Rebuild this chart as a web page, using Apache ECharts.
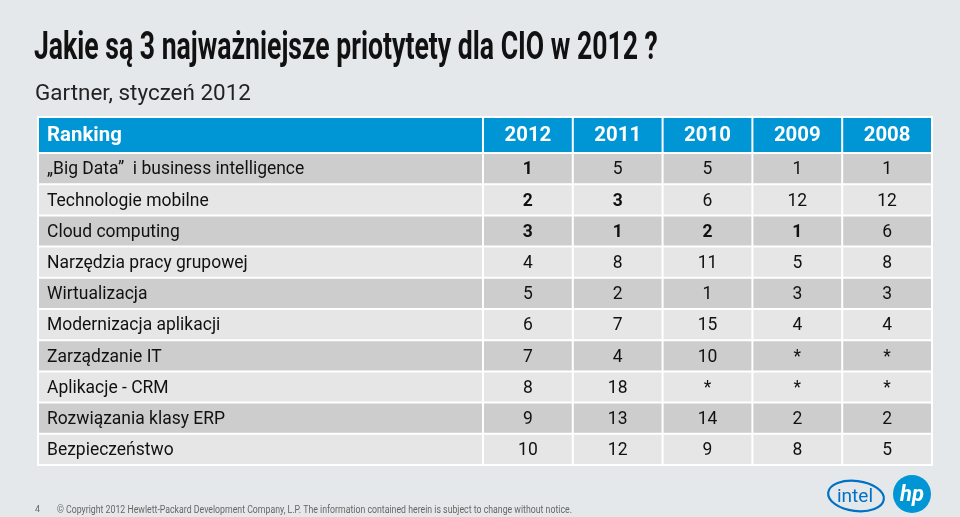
<!DOCTYPE html>
<html><head><meta charset="utf-8">
<script src="https://cdn.jsdelivr.net/npm/echarts@6/dist/echarts.min.js"></script>
<style>html,body{margin:0;padding:0;background:#e5e8ea;}#c{width:960px;height:517px;}</style>
</head><body><div id="c"></div>
<script>
// ---- data ----
var titleText = 'Jakie są 3 najważniejsze priotytety dla CIO w 2012 ?';
var subtitleText = 'Gartner, styczeń 2012';
var headerLabel = 'Ranking';
var years = ['2012', '2011', '2010', '2009', '2008'];
var priorities = [
  '„Big Data”  i business intelligence',
  'Technologie mobilne',
  'Cloud computing',
  'Narzędzia pracy grupowej',
  'Wirtualizacja',
  'Modernizacja aplikacji',
  'Zarządzanie IT',
  'Aplikacje - CRM',
  'Rozwiązania klasy ERP',
  'Bezpieczeństwo'
];
var rank2012 = ['1', '2', '3', '4', '5', '6', '7', '8', '9', '10'];
var rank2011 = ['5', '3', '1', '8', '2', '7', '4', '18', '13', '12'];
var rank2010 = ['5', '6', '2', '11', '1', '15', '10', '*', '14', '9'];
var rank2009 = ['1', '12', '1', '5', '3', '4', '*', '*', '2', '8'];
var rank2008 = ['1', '12', '6', '8', '3', '4', '*', '*', '2', '5'];
// [rowIndex, yearIndex] of cells printed in bold
var boldCells = [[0, 0], [1, 0], [1, 1], [2, 0], [2, 1], [2, 2], [2, 3]];
var footerPage = '4';
var footerText = '© Copyright 2012 Hewlett-Packard Development Company, L.P. The information contained herein is subject to change without notice.';

// ---- build ----
var rankCols = [rank2012, rank2011, rank2010, rank2009, rank2008];
var LABEL_SPAN = 4.955;   // width of label column in year-column units
var HEADER_SPAN = 1.154;  // header row height in row units
function isBold(r, c) {
  return boldCells.some(function (b) { return b[0] === r && b[1] === c; });
}
var cells = [];
cells.push([-LABEL_SPAN, years.length, -HEADER_SPAN, priorities.length, '', 'bg', 0]);
cells.push([-LABEL_SPAN, 0, -HEADER_SPAN, 0, headerLabel, 'headL', 1]);
years.forEach(function (y, c) { cells.push([c, c + 1, -HEADER_SPAN, 0, y, 'headC', 1]); });
priorities.forEach(function (p, r) {
  var kind = r % 2 === 0 ? 'dark' : 'light';
  cells.push([-LABEL_SPAN, 0, r, r + 1, p, kind + 'L', 0]);
  rankCols.forEach(function (col, c) {
    cells.push([c, c + 1, r, r + 1, col[r], kind + 'C', isBold(r, c) ? 1 : 0]);
  });
});

var FONT = 'Roboto';
function renderItem(params, api) {
  var x0 = api.value(0), x1 = api.value(1), y0 = api.value(2), y1 = api.value(3);
  var kind = api.value(5);
  var txt = api.value(4);
  var bold = api.value(6) === 1;
  var p0 = api.coord([x0, y0]), p1 = api.coord([x1, y1]);
  if (kind === 'bg') {
    return { type: 'rect', shape: { x: p0[0] - 1, y: p0[1] - 1, width: p1[0] - p0[0] + 2, height: p1[1] - p0[1] + 2 }, style: { fill: '#ffffff' } };
  }
  var isHead = kind.indexOf('head') === 0;
  var fill = isHead ? '#0096d6' : (kind.indexOf('dark') === 0 ? '#cdcdcd' : '#e6e6e6');
  var left = kind.charAt(kind.length - 1) === 'L';
  var w = p1[0] - p0[0], h = p1[1] - p0[1];
  return {
    type: 'group',
    children: [
      { type: 'rect', shape: { x: p0[0] + 1, y: p0[1] + 1, width: w - 2, height: h - 2 }, style: { fill: fill } },
      {
        type: 'text',
        x: left ? p0[0] + 9 : p0[0] + w / 2,
        y: p0[1] + h / 2 + 1,
        scaleX: isHead ? 1.02 : 0.92,
        style: {
          text: txt,
          fill: isHead ? '#ffffff' : '#111111',
          font: (bold ? 'bold ' : '') + (isHead ? '20px ' : '19px ') + FONT,
          align: left ? 'left' : 'center',
          verticalAlign: 'middle'
        }
      }
    ]
  };
}

var chart = echarts.init(document.getElementById('c'), null, { renderer: 'canvas' });
chart.setOption({
  backgroundColor: '#e5e8ea',
  animation: false,
  grid: { left: 38, right: 28, top: 117, bottom: 52 },
  xAxis: { type: 'value', min: -LABEL_SPAN, max: years.length, show: false },
  yAxis: { type: 'value', min: -HEADER_SPAN, max: priorities.length, inverse: true, show: false },
  series: [{
    type: 'custom',
    renderItem: renderItem,
    data: cells,
    encode: { x: [0, 1], y: [2, 3] },
    silent: true
  }],
  graphic: [
    { type: 'text', x: 34, y: 30, scaleX: 0.70, style: { text: titleText, font: 'bold 38px ' + FONT, fill: '#111111' } },
    { type: 'text', x: 35, y: 83, scaleX: 1.02, style: { text: subtitleText, font: '22px ' + FONT, fill: '#222222' } },
    { type: 'text', x: 35, y: 505, style: { text: footerPage, font: '9px ' + FONT, fill: '#666666' } },
    { type: 'text', x: 57, y: 505, scaleX: 0.875, style: { text: footerText, font: '10px ' + FONT, fill: '#666666' } },
    // intel logo
    { type: 'ellipse', shape: { cx: 0, cy: 0, rx: 28, ry: 15 }, x: 856, y: 496, rotation: -0.12, style: { fill: 'none', stroke: '#0071c5', lineWidth: 2.2 } },
    { type: 'text', x: 855, y: 497, style: { text: 'intel', font: '19px ' + FONT, fill: '#0071c5', align: 'center', verticalAlign: 'middle' } },
    // hp logo
    { type: 'circle', shape: { cx: 912, cy: 494, r: 19 }, style: { fill: '#0096d6' } },
    { type: 'text', x: 912, y: 495, style: { text: 'hp', font: 'italic bold 22px ' + FONT, fill: '#ffffff', align: 'center', verticalAlign: 'middle' } }
  ]
});
</script></body></html>
